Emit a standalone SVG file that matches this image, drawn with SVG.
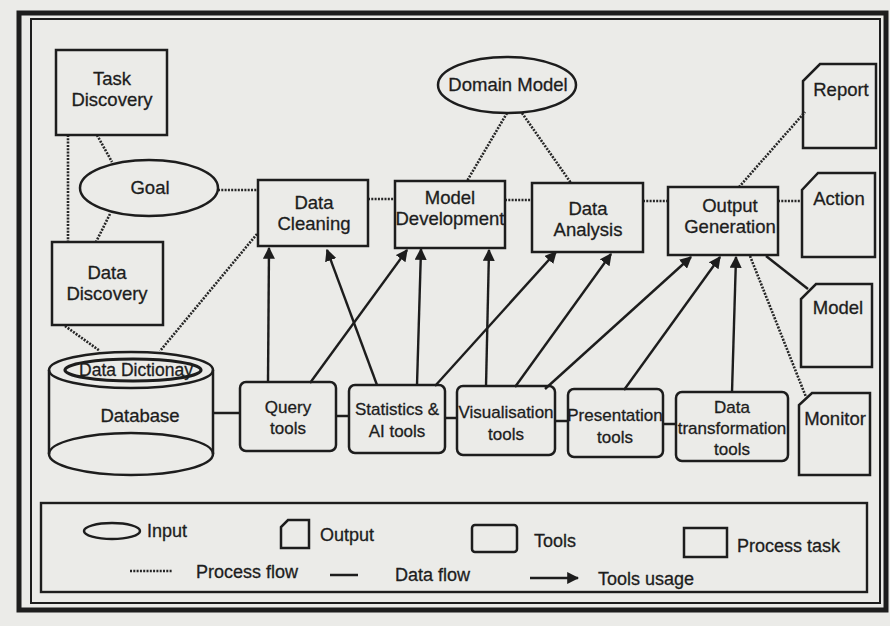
<svg xmlns="http://www.w3.org/2000/svg" width="890" height="626" viewBox="0 0 890 626">
  <style>
    text { font-family: "Liberation Sans", Arial, sans-serif; fill: #1d1d1d; stroke: #1d1d1d; stroke-width: 0.3; text-anchor: middle; }
    .lbl { font-size: 18.5px; }
    .tool { font-size: 17px; }
    .leg { font-size: 18px; text-anchor: start; }
    .box { fill: none; stroke: #1d1d1d; stroke-width: 2.5; }
    .ell { fill: none; stroke: #1d1d1d; stroke-width: 2.5; }
    .proc { fill: none; stroke: #262626; stroke-width: 2.6; stroke-dasharray: 2 1.3; }
    .data { fill: none; stroke: #1d1d1d; stroke-width: 2.5; }
    .use { fill: none; stroke: #1d1d1d; stroke-width: 2.4; marker-end: url(#arrow); }
  </style>
  <defs>
    <marker id="arrow" viewBox="0 0 10 10" refX="9" refY="5" markerWidth="5" markerHeight="5" orient="auto" markerUnits="strokeWidth">
      <path d="M0,0 L10,5 L0,10 Z" fill="#1d1d1d"/>
    </marker>
  </defs>

  <!-- page background and double frame -->
  <rect x="0" y="0" width="890" height="626" fill="#ebebe8"/>
  <rect x="19" y="13" width="867" height="597" fill="none" stroke="#1d1d1d" stroke-width="5"/>
  <rect x="31" y="19" width="849" height="584" fill="none" stroke="#1d1d1d" stroke-width="2"/>

  <!-- connectors -->
  <g id="connectors">
    <!-- process flow -->
    <line class="proc" x1="68" y1="135" x2="68" y2="242"/>
    <line class="proc" x1="97" y1="135" x2="112" y2="162"/>
    <line class="proc" x1="110" y1="214" x2="96" y2="242"/>
    <line class="proc" x1="218" y1="190" x2="258" y2="190"/>
    <line class="proc" x1="368" y1="199" x2="395" y2="199"/>
    <line class="proc" x1="505" y1="200" x2="532" y2="200"/>
    <line class="proc" x1="643" y1="201" x2="668" y2="201"/>
    <line class="proc" x1="778" y1="201" x2="802" y2="201"/>
    <line class="proc" x1="507" y1="113" x2="467" y2="181"/>
    <line class="proc" x1="522" y1="113" x2="571" y2="183"/>
    <line class="proc" x1="739" y1="187" x2="805" y2="112"/>
    <line class="proc" x1="750" y1="256" x2="806" y2="397"/>
    <line class="proc" x1="257" y1="234" x2="160" y2="351"/>
    <line class="proc" x1="65" y1="326" x2="100" y2="351"/>
    <!-- data flow -->
    <line class="data" x1="766" y1="256" x2="808" y2="289"/>
    <line class="data" x1="213" y1="413" x2="240" y2="413"/>
    <line class="data" x1="336" y1="416" x2="349" y2="416"/>
    <line class="data" x1="445" y1="418" x2="457" y2="418"/>
    <line class="data" x1="555" y1="421" x2="568" y2="421"/>
    <line class="data" x1="663" y1="424" x2="676" y2="424"/>
    <!-- tools usage -->
    <line class="use" x1="268" y1="382" x2="269" y2="248"/>
    <line class="use" x1="310" y1="383" x2="407" y2="250"/>
    <line class="use" x1="377" y1="385" x2="327" y2="250"/>
    <line class="use" x1="417" y1="385" x2="421" y2="249"/>
    <line class="use" x1="435" y1="386" x2="556" y2="252"/>
    <line class="use" x1="486" y1="387" x2="489" y2="250"/>
    <line class="use" x1="515" y1="387" x2="611" y2="254"/>
    <line class="use" x1="545" y1="389" x2="691" y2="257"/>
    <line class="use" x1="624" y1="390" x2="720" y2="257"/>
    <line class="use" x1="732" y1="392" x2="736" y2="257"/>
  </g>

  <!-- process tasks -->
  <g id="task-discovery">
    <rect class="box" x="56" y="50" width="111" height="85"/>
    <text class="lbl" x="112" y="85">Task</text>
    <text class="lbl" x="112" y="106">Discovery</text>
  </g>
  <g id="data-discovery">
    <rect class="box" x="52" y="242" width="111" height="83"/>
    <text class="lbl" x="107" y="279">Data</text>
    <text class="lbl" x="107" y="300">Discovery</text>
  </g>
  <g id="data-cleaning">
    <rect class="box" x="258" y="180" width="110" height="66"/>
    <text class="lbl" x="314" y="209">Data</text>
    <text class="lbl" x="314" y="230">Cleaning</text>
  </g>
  <g id="model-development">
    <rect class="box" x="395" y="181" width="110" height="67"/>
    <text class="lbl" x="450" y="204">Model</text>
    <text class="lbl" x="450" y="225">Development</text>
  </g>
  <g id="data-analysis">
    <rect class="box" x="532" y="183" width="111" height="69"/>
    <text class="lbl" x="588" y="215">Data</text>
    <text class="lbl" x="588" y="236">Analysis</text>
  </g>
  <g id="output-generation">
    <rect class="box" x="668" y="187" width="110" height="68"/>
    <text class="lbl" x="730" y="212">Output</text>
    <text class="lbl" x="730" y="233">Generation</text>
  </g>

  <!-- inputs -->
  <g id="goal">
    <ellipse class="ell" cx="149" cy="188" rx="69" ry="28"/>
    <text class="lbl" x="150" y="194">Goal</text>
  </g>
  <g id="domain-model">
    <ellipse class="ell" cx="507" cy="85" rx="69" ry="28"/>
    <text class="lbl" x="508" y="91">Domain Model</text>
  </g>

  <!-- database with data dictionary -->
  <g id="database">
    <path class="box" d="M49 370 V454 M213 370 V454"/>
    <ellipse class="ell" cx="131" cy="370" rx="82" ry="18"/>
    <ellipse class="ell" cx="131" cy="454" rx="82" ry="21"/>
    <ellipse cx="133" cy="370" rx="68" ry="11" fill="none" stroke="#1d1d1d" stroke-width="3.2"/>
    <text x="136" y="376" style="font-size:17.5px">Data Dictionay</text>
    <text class="lbl" x="140" y="422">Database</text>
  </g>

  <!-- tools -->
  <g id="query-tools">
    <rect class="box" x="240" y="382" width="96" height="69" rx="6"/>
    <text class="tool" x="288" y="413">Query</text>
    <text class="tool" x="288" y="434">tools</text>
  </g>
  <g id="statistics-ai-tools">
    <rect class="box" x="349" y="385" width="96" height="68" rx="6"/>
    <text class="tool" x="397" y="415">Statistics &amp;</text>
    <text class="tool" x="397" y="437">AI tools</text>
  </g>
  <g id="visualisation-tools">
    <rect class="box" x="457" y="386" width="98" height="69" rx="6"/>
    <text class="tool" x="506" y="418">Visualisation</text>
    <text class="tool" x="506" y="440">tools</text>
  </g>
  <g id="presentation-tools">
    <rect class="box" x="568" y="389" width="95" height="68" rx="6"/>
    <text class="tool" x="615" y="421">Presentation</text>
    <text class="tool" x="615" y="443">tools</text>
  </g>
  <g id="data-transformation-tools">
    <rect class="box" x="676" y="392" width="112" height="69" rx="6"/>
    <text class="tool" x="732" y="413">Data</text>
    <text class="tool" x="732" y="434">transformation</text>
    <text class="tool" x="732" y="455">tools</text>
  </g>

  <!-- outputs -->
  <g id="report">
    <path class="box" d="M820 64 H876 V148 H803 V81 Z"/>
    <text class="lbl" x="841" y="96">Report</text>
  </g>
  <g id="action">
    <path class="box" d="M818 173 H875 V257 H802 V190 Z"/>
    <text class="lbl" x="839" y="205">Action</text>
  </g>
  <g id="model">
    <path class="box" d="M816 284 H872 V367 H801 V299 Z"/>
    <text class="lbl" x="838" y="314">Model</text>
  </g>
  <g id="monitor">
    <path class="box" d="M812 393 H870 V475 H799 V405 Z"/>
    <text class="lbl" x="835" y="425">Monitor</text>
  </g>

  <!-- legend -->
  <g id="legend">
    <rect x="41" y="503" width="826" height="89" fill="none" stroke="#1d1d1d" stroke-width="2.4"/>
    <ellipse class="ell" cx="112" cy="531" rx="28" ry="8"/>
    <text class="leg" x="147" y="537">Input</text>
    <path class="box" d="M288 520 H309 V548 H281 V527 Z"/>
    <text class="leg" x="320" y="541">Output</text>
    <rect class="box" x="472" y="525" width="45" height="27" rx="3"/>
    <text class="leg" x="534" y="547">Tools</text>
    <rect class="box" x="684" y="528" width="43" height="29"/>
    <text class="leg" x="737" y="552">Process task</text>
    <line class="proc" x1="130" y1="571" x2="172" y2="571"/>
    <text class="leg" x="196" y="578">Process flow</text>
    <line class="data" x1="330" y1="575" x2="358" y2="575"/>
    <text class="leg" x="395" y="581">Data flow</text>
    <line class="use" x1="530" y1="578" x2="578" y2="578"/>
    <text class="leg" x="598" y="585">Tools usage</text>
  </g>
</svg>
